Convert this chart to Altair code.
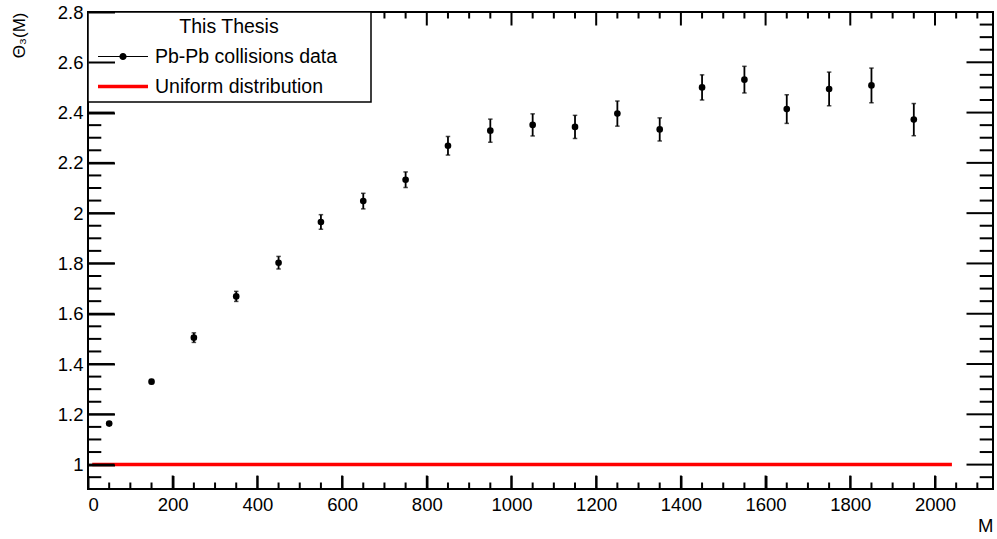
import altair as alt
import pandas as pd

# ---------------- data ----------------
m_centers = [50, 150, 250, 350, 450, 550, 650, 750, 850, 950,
             1050, 1150, 1250, 1350, 1450, 1550, 1650, 1750, 1850, 1950]
theta3 = [1.163, 1.330, 1.505, 1.669, 1.803, 1.965, 2.048, 2.133, 2.268, 2.328,
          2.351, 2.343, 2.396, 2.333, 2.500, 2.531, 2.414, 2.494, 2.508, 2.372]
theta3_err = [0.006, 0.008, 0.019, 0.020, 0.025, 0.029, 0.031, 0.031, 0.037, 0.046,
              0.044, 0.046, 0.050, 0.046, 0.050, 0.053, 0.057, 0.067, 0.069, 0.064]
uniform_x = [10, 2040]
uniform_y = [1.0, 1.0]
series_names = ["Pb-Pb collisions data", "Uniform distribution"]
legend_title = "This Thesis"

x_major = [0, 200, 400, 600, 800, 1000, 1200, 1400, 1600, 1800, 2000]
x_minor = [v for v in range(0, 2101, 50) if v % 200 != 0]
y_major = [1.0, 1.2, 1.4, 1.6, 1.8, 2.0, 2.2, 2.4, 2.6, 2.8]
y_minor = [round(0.95 + 0.05 * i, 2) for i in range(38) if round((0.95 + 0.05 * i) * 100) % 20 != 0]
x_domain = [0, 2137]
y_domain = [0.903, 2.8]

FONT = "Liberation Sans"
W, H = 905, 477
XMAJ, XMIN, YMAJ, YMIN = 13.5, 6.5, 26.5, 13.3
TICK_W = 2
TICK_C = "#000000"

df = pd.DataFrame({"M": m_centers, "theta": theta3, "err": theta3_err})
df_uni = pd.DataFrame({"M": uniform_x, "theta": uniform_y})
df_leg = pd.DataFrame({"M": [uniform_x[0]] * 2, "theta": [uniform_y[0]] * 2, "series": series_names})

xs = alt.Scale(domain=x_domain, nice=False, zero=False)
ys = alt.Scale(domain=y_domain, nice=False, zero=False)

# labelled axes; their major ticks point inwards (offset = -tickSize)
x_axis = alt.Axis(values=x_major, ticks=True, tickSize=XMAJ, offset=-XMAJ, tickWidth=TICK_W,
                  tickColor=TICK_C, zindex=1, domain=False, grid=False,
                  format="d", labelFont=FONT, labelFontSize=18.5, labelColor="black",
                  labelPadding=6, title="M", titleFont=FONT, titleFontSize=18.5,
                  titleFontWeight="normal", titleColor="black", titleAnchor="end",
                  titlePadding=3)
y_axis = alt.Axis(values=y_major, ticks=True, tickSize=YMAJ, offset=-YMAJ, tickWidth=TICK_W,
                  tickColor=TICK_C, zindex=1, domain=False, grid=False,
                  format=".1~f", labelFont=FONT, labelFontSize=18.5, labelColor="black",
                  labelPadding=5, title="\u0398\u2083(M)", titleFont=FONT,
                  titleFontSize=17, titleFontWeight="normal", titleColor="black",
                  titleAnchor="end", titlePadding=29)

uniform = alt.Chart(df_uni).mark_line(color="#ff0000", strokeWidth=3.5).encode(
    x=alt.X("M:Q", scale=xs, axis=x_axis),
    y=alt.Y("theta:Q", scale=ys, axis=y_axis),
)


# ---- tick marks (inside the frame, ROOT style) ----
def yticks(vals, length):
    d = alt.Chart(pd.DataFrame({"v": vals}))
    left = d.mark_rule(color=TICK_C, strokeWidth=TICK_W, strokeCap="butt").encode(
        y=alt.Y("v:Q", scale=ys), x=alt.value(0), x2=alt.value(length))
    right = d.mark_rule(color=TICK_C, strokeWidth=TICK_W, strokeCap="butt").encode(
        y=alt.Y("v:Q", scale=ys), x=alt.value(W - length), x2=alt.value(W))
    return [left, right]


def xticks(vals, length):
    d = alt.Chart(pd.DataFrame({"v": vals}))
    bottom = d.mark_rule(color=TICK_C, strokeWidth=TICK_W, strokeCap="butt").encode(
        x=alt.X("v:Q", scale=xs), y=alt.value(H - length), y2=alt.value(H))
    top = d.mark_rule(color=TICK_C, strokeWidth=TICK_W, strokeCap="butt").encode(
        x=alt.X("v:Q", scale=xs), y=alt.value(0), y2=alt.value(length))
    return [bottom, top]


tick_layers = yticks(y_major, YMAJ) + yticks(y_minor, YMIN) + xticks(x_major, XMAJ) + xticks(x_minor, XMIN)

base = alt.Chart(df)
err = base.transform_calculate(lo="datum.theta - datum.err", hi="datum.theta + datum.err")

bars = err.mark_rule(color="black", strokeWidth=1.8).encode(
    x=alt.X("M:Q", scale=xs), y=alt.Y("lo:Q", scale=ys), y2="hi:Q")
cap_lo = err.mark_tick(orient="horizontal", size=4.5, thickness=1.5, color="black").encode(
    x=alt.X("M:Q", scale=xs), y=alt.Y("lo:Q", scale=ys))
cap_hi = err.mark_tick(orient="horizontal", size=4.5, thickness=1.5, color="black").encode(
    x=alt.X("M:Q", scale=xs), y=alt.Y("hi:Q", scale=ys))
points = base.mark_circle(size=44, color="black", opacity=1).encode(
    x=alt.X("M:Q", scale=xs), y=alt.Y("theta:Q", scale=ys))

path_data = ("M-2.5,-0.05H2.5V0.05H-2.5Z"
             "M0.36,0A0.36,0.36,0,1,1,-0.36,0A0.36,0.36,0,1,1,0.36,0Z")
path_uni = "M-2.5,-0.17H2.5V0.17H-2.5Z"

zw = "\u200b"
label_pad = "\u00a0" * 5
leg = alt.Legend(labelExpr="datum.label + '" + label_pad + zw + "'")

legend_layer = alt.Chart(df_leg).mark_point(filled=True, opacity=0).encode(
    x=alt.X("M:Q", scale=xs), y=alt.Y("theta:Q", scale=ys),
    color=alt.Color("series:N", title=legend_title, legend=leg,
                    scale=alt.Scale(domain=series_names, range=["black", "#ff0000"])),
    shape=alt.Shape("series:N", title=legend_title, legend=leg,
                    scale=alt.Scale(domain=series_names, range=[path_data, path_uni])),
)

chart = alt.layer(uniform, *tick_layers, bars, cap_lo, cap_hi, points, legend_layer).properties(
    width=W, height=H,
    autosize=alt.AutoSizeParams(type="none"),
    padding={"left": 88, "top": 12, "right": 4, "bottom": 50},
    background="white",
).configure_view(
    stroke="black", strokeWidth=2
).configure_legend(
    orient="none", legendX=0, legendY=0, padding=6,
    strokeColor="black", fillColor="white", strokeWidth=1.5,
    titleFont=FONT, titleFontSize=19.5, titleFontWeight="normal", titleColor="black",
    titleAnchor="middle", titleAlign="center", titlePadding=9, titleLimit=600,
    labelFont=FONT, labelFontSize=19.5, labelColor="black", labelLimit=400,
    symbolSize=400, symbolStrokeWidth=0, symbolOffset=19, labelOffset=22,
    rowPadding=10, symbolOpacity=1,
)

chart.save("out.html", embed_options={"renderer": "svg", "actions": False})
